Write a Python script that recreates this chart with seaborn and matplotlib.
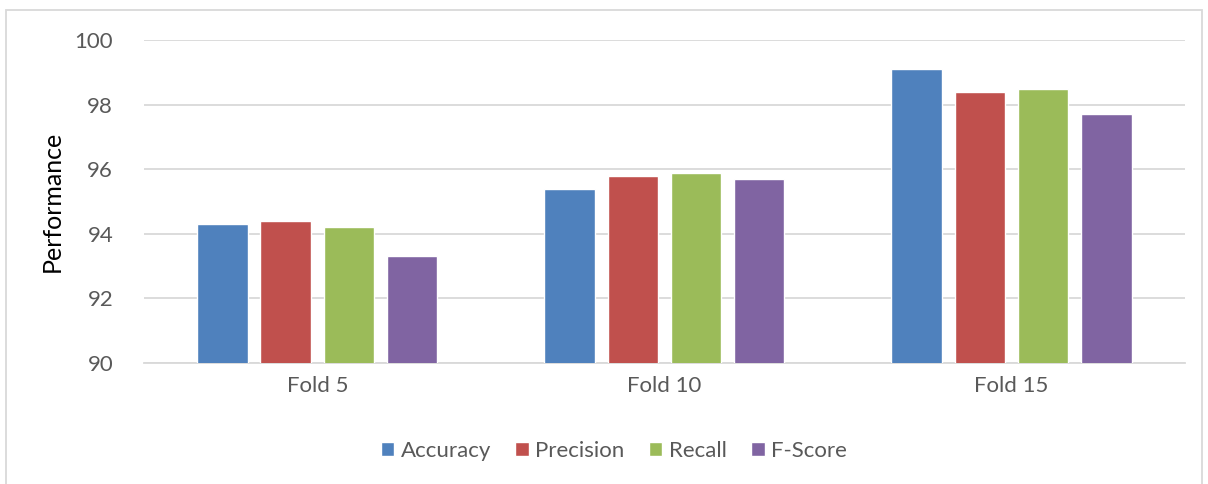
import pandas as pd
import numpy as np
import matplotlib
matplotlib.use("Agg")
import matplotlib.pyplot as plt
import seaborn as sns
from matplotlib.patches import Rectangle

# Data
folds = ["Fold 5", "Fold 10", "Fold 15"]
metrics = ["Accuracy", "Precision", "Recall", "F-Score"]
accuracy = [94.3, 95.4, 99.1]
precision = [94.4, 95.8, 98.4]
recall = [94.2, 95.9, 98.5]
fscore = [93.3, 95.7, 97.7]

colors = ["#4F81BD", "#C0504D", "#9BBB59", "#8064A2"]

df = pd.DataFrame({
    "Fold": folds * 4,
    "Metric": np.repeat(metrics, 3),
    "Value": accuracy + precision + recall + fscore,
})

sns.set_theme(style="white")
plt.rcParams['font.family'] = ['Lato', 'DejaVu Sans']

fig = plt.figure(figsize=(12.08, 4.84), dpi=100)
ax = fig.add_axes([0.119, 0.25, 0.862, 0.667])

sns.barplot(data=df, x="Fold", y="Value", hue="Metric", order=folds,
            hue_order=metrics, palette=colors, width=0.728, gap=0.2,
            saturation=1, ax=ax, zorder=3)

ax.set_ylim(90, 100)
ax.set_xlim(-0.5, 2.5)
ax.set_yticks(range(90, 101, 2))
ax.yaxis.grid(True, color="#D9D9D9", linewidth=1.3, zorder=0)
ax.set_axisbelow(True)
for s in ["top", "right", "left"]:
    ax.spines[s].set_visible(False)
ax.spines["bottom"].set_color("#D9D9D9")
ax.spines["bottom"].set_linewidth(1.3)
ax.tick_params(axis="both", length=0, labelsize=16, colors="#595959", pad=9)
ax.tick_params(axis="y", pad=22)
ax.set_xlabel("")
ax.set_ylabel("Performance", fontsize=18, color="black", labelpad=8)

handles, labels = ax.get_legend_handles_labels()
ax.get_legend().remove()
fig.legend(handles, labels, loc="center", bbox_to_anchor=(614 / 1208, 0.068),
           ncol=4, frameon=False, fontsize=16, handlelength=0.6,
           handleheight=0.6, handletextpad=0.3, columnspacing=1.1,
           labelcolor="#595959")

fig.patches.append(Rectangle((0.005, -0.01), 0.99, 0.99, transform=fig.transFigure,
                             fill=False, edgecolor="#D9D9D9", linewidth=1.3))

fig.savefig("out.png", dpi=100)
